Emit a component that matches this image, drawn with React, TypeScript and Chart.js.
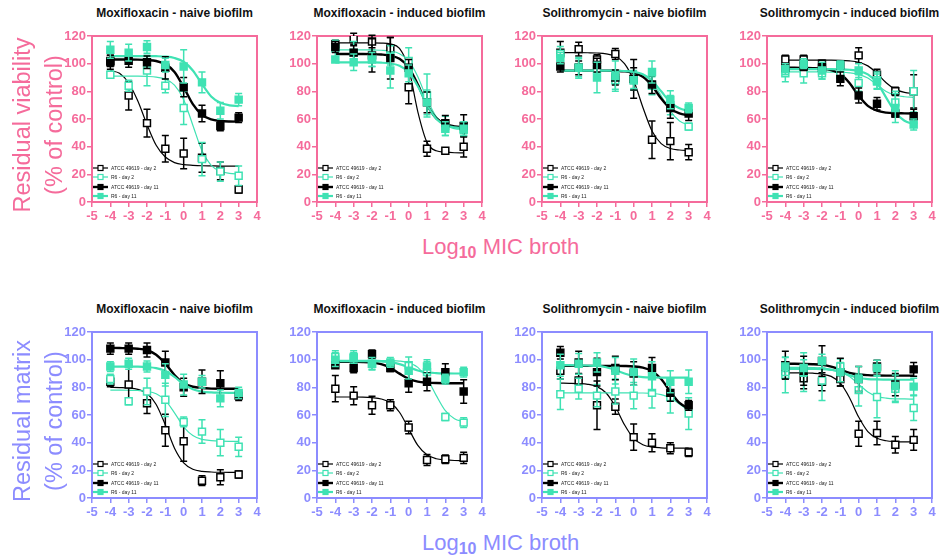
import React, { useEffect, useRef } from "react";
import { Chart, registerables } from "chart.js";
Chart.register(...registerables);

const FONT = "'Liberation Sans', Arial, sans-serif";
const PINK = "#f56b9b";
const BLUE = "#8c8cff";
const TEAL = "#3fe2b3";
const BLACK = "#000000";

const doseLog = [-4, -3, -2, -1, 0, 1, 2, 3];
const fitLog = [-4, -3.5, -3, -2.5, -2, -1.5, -1, -0.5, 0, 0.5, 1, 1.5, 2, 2.5, 3];
const xTickValues = [-5, -4, -3, -2, -1, 0, 1, 2, 3, 4];
const yTickValues = [0, 20, 40, 60, 80, 100, 120];
const seriesLabels = ["ATCC 49619 - day 2", "R6 - day 2", "ATCC 49619 - day 11", "R6 - day 11"];
const panelTitles = [
  "Moxifloxacin - naive biofilm",
  "Moxifloxacin - induced biofilm",
  "Solithromycin - naive biofilm",
  "Solithromycin - induced biofilm",
];
const rowYLabels = [
  ["Residual viability", "(% of control)"],
  ["Residual matrix", "(% of control)"],
];
const xAxisTitle = ["Log", "10", " MIC broth"];

// ---- Residual viability: Moxifloxacin naive ----
const p1Means = [
  [101, 77, 57, 38.5, 35, 32, 22.5, 9],
  [92, 84, 95, 84, 68, 31, 22, 19],
  [102, 102, 101, 97, 83, 64, 55, 61],
  [110, 108, 112, 99, 98, 86.5, 66, 74],
];
const p1Errs = [
  [5, 10.5, 10, 9.5, 11, 10.5, 6.5, 2.5],
  [2.5, 4, 11, 5, 12, 12, 7, 7],
  [4, 4.5, 4.5, 8, 7, 6, 3.5, 3.5],
  [6, 6, 4.5, 5, 12, 7.5, 6, 4.5],
];
const p1Fits = [
  [95, 93, 86, 73, 56, 41, 32.5, 28.5, 27, 26.5, 26.2, 26.1, 26, 26, 26],
  [91, 91, 91, 91, 90.8, 90.3, 88.8, 84.5, 74, 55.5, 37, 26.5, 22.2, 20.7, 20.2],
  [103, 103, 103, 102.9, 102.6, 101.9, 99.7, 94, 83, 70.8, 63, 59.7, 58.6, 58.2, 58.1],
  [105.5, 105.5, 105.5, 105.5, 105.5, 105.4, 105.1, 104.1, 101.4, 95.1, 85.2, 76.3, 71.7, 69.9, 69.3],
];

// ---- Residual viability: Moxifloxacin induced ----
const p2Means = [
  [114, 118, 116, 111, 83, 38.5, 37, 40],
  [111, 108, 104, 106, 102, 77, 55, 52],
  [112, 108, 106, 104, 97, 72, 57, 55],
  [103, 101, 103, 95, 93, 72, 53, 53],
];
const p2Errs = [
  [3, 4, 4.5, 8, 12, 5.5, 2, 7.5],
  [6, 8, 6, 7, 9.5, 15.5, 7, 4],
  [4, 5, 12, 15, 6, 7.5, 5.5, 8],
  [2, 6, 5, 12.5, 6, 9, 5, 5],
];
const p2Fits = [
  [115, 115, 115, 115, 115, 114.9, 114.3, 111, 96.7, 65.2, 43.1, 37, 36, 35.6, 35.5],
  [110, 110, 110, 110, 109.9, 109.7, 109.1, 107.2, 102, 90.6, 74.4, 61.7, 55.4, 53.1, 52.4],
  [107, 107, 107, 107, 106.9, 106.6, 105.8, 103.5, 97.3, 85, 70.4, 60.6, 56.3, 54.7, 54.2],
  [101, 101, 101, 101, 100.9, 100.7, 100.1, 98.5, 93.8, 83.7, 70.3, 60.2, 55.5, 53.9, 53.3],
];

// ---- Residual viability: Solithromycin naive ----
const p3Means = [
  [108, 110.5, 103, 107, 89, 45, 44, 36],
  [107, 97, 96, 88, 88, 84, 70, 54.5],
  [98, 97, 99, 90, 89, 85, 68, 64],
  [104, 97, 90, 91, 88, 94, 74, 68],
];
const p3Errs = [
  [8, 5, 3.5, 4, 14, 13.5, 13.5, 5.5],
  [5.5, 6.5, 5, 6.5, 7, 6.5, 7, 2.5],
  [4, 5, 5, 5.5, 8, 6.5, 7.5, 5],
  [4, 7.5, 11, 11, 6, 8, 6.5, 3.5],
];
const p3Fits = [
  [108, 108, 108, 107.9, 107.7, 107.1, 105.3, 100, 87.8, 68.5, 51.3, 42.2, 38.7, 37.6, 37.2],
  [95, 95, 95, 95, 95, 95, 94.9, 94.7, 94, 92, 86.8, 76.8, 65.7, 58.5, 55.6],
  [95, 95, 95, 95, 95, 95, 94.8, 94.5, 93.4, 90.5, 84, 74.8, 67.5, 64, 62.6],
  [95, 95, 95, 95, 95, 95, 94.9, 94.7, 94.1, 92.3, 87.8, 80, 72.2, 67.7, 65.9],
];

// ---- Residual viability: Solithromycin induced ----
const p4Means = [
  [103, 103, 100, 99, 106, 92, 80, 80],
  [93, 93, 93, 92, 86, 88, 72, 80],
  [97, 98, 97, 89, 77, 71, 64, 62],
  [96, 100, 95, 99, 95, 87, 68, 56],
];
const p4Errs = [
  [3, 3, 2.5, 3, 5.5, 4, 3, 12],
  [6, 7, 4, 5, 6, 6, 8, 15],
  [3, 3, 3, 5, 5.5, 4.5, 2.5, 5],
  [4, 3.5, 6, 3, 5, 5.5, 10.5, 4],
];
const p4Fits = [
  [102.5, 102.5, 102.5, 102.5, 102.5, 102.5, 102.4, 102, 101, 98.4, 93, 86.2, 81.4, 79.2, 78.4],
  [94, 94, 94, 94, 94, 93.9, 93.8, 93.4, 92.3, 89.6, 84.8, 79.9, 77.2, 76.1, 75.7],
  [97, 97, 96.9, 96.8, 96.5, 95.4, 92.5, 86, 76.8, 69.5, 66, 64.6, 64.2, 64.1, 64],
  [96, 96, 96, 96, 96, 96, 95.9, 95.6, 94.7, 92.3, 86.2, 75.5, 64.8, 58.7, 56.3],
];

// ---- Residual matrix: Moxifloxacin naive ----
const p5Means = [
  [84, 82, 68.5, 49, 41, 12.5, 15, 17],
  [86, 70, 77, 71, 55, 48, 40, 37],
  [108, 108, 107, 98, 80, 84, 83, 74],
  [95, 97, 95, 89, 82, 84, 72, 76],
];
const p5Errs = [
  [3.5, 14, 7.5, 11.5, 14.5, 3.5, 5.5, 2.5],
  [3.5, 2.5, 9.5, 12, 3.5, 8.5, 9.5, 7],
  [4, 4, 5, 8, 6.5, 8.5, 9, 3.5],
  [3.5, 4, 4, 8, 7.5, 4.5, 6, 4],
];
const p5Fits = [
  [80, 79.8, 79.5, 78.5, 75.5, 67.6, 52.8, 36, 25.4, 20.8, 19.3, 18.8, 18.6, 18.5, 18.5],
  [78, 78, 77.9, 77.7, 77.1, 75.3, 70.6, 61.6, 51.5, 45.1, 42.4, 41.5, 41.1, 41, 41],
  [108.5, 108.4, 108.3, 107.9, 106.8, 103.6, 97.1, 88.9, 83, 80.4, 79.5, 79.1, 79, 79, 79],
  [95, 95, 95, 94.9, 94.6, 93.9, 91.8, 87.6, 82.3, 78.6, 76.9, 76.3, 76.1, 76, 76],
];

// ---- Residual matrix: Moxifloxacin induced ----
const p6Means = [
  [79, 74, 67, 67, 51, 27.5, 28, 29],
  [102, 101, 97, 96, 96, 91, 58.5, 54.5],
  [96, 94, 104, 94, 83, 84, 91, 77],
  [100, 102, 97, 98, 92, 95, 86, 91],
];
const p6Errs = [
  [9.5, 6.5, 6.5, 4, 4.5, 4, 3, 4],
  [4.5, 4, 4, 3, 6, 7.5, 2.5, 3.5],
  [2, 3.5, 3, 2.5, 6.5, 6.5, 6, 8.5],
  [5, 4.5, 4.5, 3.5, 6, 5, 3.5, 3.5],
];
const p6Fits = [
  [73, 73, 73, 72.9, 72.5, 71.6, 68.8, 62, 50, 38, 31.2, 28.4, 27.5, 27.1, 27],
  [99.5, 99.5, 99.5, 99.5, 99.5, 99.4, 99.3, 99, 97.8, 94.4, 86.5, 74.2, 63.1, 57.3, 55.1],
  [98.5, 98.5, 98.4, 98.3, 97.9, 96.8, 94.1, 89.9, 86.1, 84.1, 83.4, 83.1, 83, 83, 83],
  [99, 99, 99, 99, 98.9, 98.7, 98.2, 96.8, 94.5, 92.2, 90.8, 90.3, 90.1, 90, 90],
];

// ---- Residual matrix: Solithromycin naive ----
const p7Means = [
  [92, 85, 67, 66, 44, 40, 36, 33],
  [75, 79, 74, 77, 74, 76, 73, 61],
  [105, 98, 91, 94, 90, 94, 76, 67],
  [96, 97, 98, 92, 91, 88, 84, 84],
];
const p7Errs = [
  [6, 4.5, 17.5, 5.5, 9.5, 6.5, 4, 3],
  [11, 7.5, 8, 9, 9.5, 11, 11.5, 11.5],
  [4.5, 8, 10, 8.5, 8.5, 7.5, 6, 3.5],
  [8, 7.5, 7, 9.5, 9.5, 10.5, 8, 8.5],
];
const p7Fits = [
  [83, 82.9, 82.7, 82.2, 80.5, 75.9, 66.1, 52.9, 43.1, 38.5, 36.8, 36.3, 36.1, 36, 36],
  [76, 76, 76, 76, 76, 76, 76, 76, 75.9, 75.9, 75.6, 74.7, 72.4, 68, 63.1],
  [95.5, 95.5, 95.5, 95.5, 95.5, 95.5, 95.5, 95.4, 95.1, 94.2, 91.7, 86, 76.8, 68.7, 64.5],
  [96, 96, 95.9, 95.8, 95.5, 94.5, 92.5, 90, 88.2, 87.4, 87.1, 87, 87, 87, 87],
];

// ---- Residual matrix: Solithromycin induced ----
const p8Means = [
  [92, 86.5, 84, 86, 46.5, 47, 38.5, 42],
  [89, 91, 85, 95, 78, 73, 79, 65],
  [96, 92, 99, 91, 86, 95, 82, 93],
  [95, 94, 99, 91, 86, 94, 81, 80.5],
];
const p8Errs = [
  [6, 7.5, 6.5, 5, 9, 8.5, 6, 7.5],
  [13, 14, 14.5, 5.5, 11.5, 15, 10, 9],
  [10, 10.5, 11, 10, 9, 4.5, 8, 5],
  [6.5, 6, 5, 7, 9, 5.5, 11, 6],
];
const p8Fits = [
  [90.5, 90.5, 90.4, 90.2, 89.6, 87.9, 83, 72.5, 58.5, 48, 43.2, 41.4, 40.8, 40.6, 40.5],
  [93, 93, 93, 92.9, 92.8, 92.3, 91.1, 87.8, 82.3, 76.7, 73.5, 72.2, 71.7, 71.6, 71.5],
  [97, 97, 96.9, 96.7, 96.2, 95, 92.8, 90.5, 89.3, 88.8, 88.6, 88.5, 88.5, 88.5, 88.5],
  [94, 94, 94, 93.9, 93.6, 92.8, 91.2, 88.8, 86.9, 86, 85.7, 85.6, 85.5, 85.5, 85.5],
];

// styles
const seriesColors = [BLACK, TEAL, BLACK, TEAL];
const seriesFilled = [false, false, true, true];
const seriesLineWidth = [1.2, 1.2, 2.4, 2.2];

const PLOT_W = 165;
const PLOT_H = 166;
const AXIS_W = 45;
const AXIS_H = 25;
const PAD_T = 10;
const PAD_R = 12;
const colLefts = [92, 317, 542, 767];
const rowTops = [36, 332];

type PanelProps = {
  left: number;
  top: number;
  means: number[][];
  errs: number[][];
  fits: number[][];
  axisColor: string;
};

function Panel({ left, top, means, errs, fits, axisColor }: PanelProps) {
  const ref = useRef<HTMLCanvasElement | null>(null);
  useEffect(() => {
    if (!ref.current) return;
    const datasets: any[] = [];
    for (let s = 0; s < 4; s++) {
      datasets.push({
        label: seriesLabels[s] + " fit",
        data: fitLog.map((x, i) => ({ x, y: fits[s][i] })),
        borderColor: seriesColors[s],
        borderWidth: seriesLineWidth[s],
        pointRadius: 0,
        fill: false,
        cubicInterpolationMode: "monotone",
        order: 20 - s,
      });
      datasets.push({
        label: seriesLabels[s],
        data: doseLog.map((x, i) => ({ x, y: means[s][i] })),
        showLine: false,
        pointStyle: "rect",
        pointRadius: 4.9,
        borderWidth: 1.5,
        borderColor: seriesColors[s],
        backgroundColor: seriesFilled[s] ? seriesColors[s] : "#ffffff",
        errs: errs[s],
        errColor: seriesColors[s],
        order: 10 - s,
      });
    }

    const framePlugin = {
      id: "frame",
      beforeDatasetsDraw(chart: any) {
        const { ctx, chartArea: a } = chart;
        ctx.save();
        ctx.strokeStyle = axisColor;
        ctx.lineWidth = 2;
        ctx.strokeRect(a.left, a.top, a.right - a.left, a.bottom - a.top);
        ctx.restore();
      },
      beforeDatasetDraw(chart: any, args: any) {
        const ds = chart.data.datasets[args.index];
        if (!ds.errs) return;
        const { ctx } = chart;
        const xs = chart.scales.x;
        const ys = chart.scales.y;
        ctx.save();
        ctx.strokeStyle = ds.errColor;
        ctx.lineWidth = 1.5;
        ds.data.forEach((p: any, i: number) => {
          const e = ds.errs[i];
          const px = xs.getPixelForValue(p.x);
          const y1 = ys.getPixelForValue(p.y - e);
          const y2 = ys.getPixelForValue(p.y + e);
          ctx.beginPath();
          ctx.moveTo(px, y1);
          ctx.lineTo(px, y2);
          ctx.moveTo(px - 3.5, y1);
          ctx.lineTo(px + 3.5, y1);
          ctx.moveTo(px - 3.5, y2);
          ctx.lineTo(px + 3.5, y2);
          ctx.stroke();
        });
        ctx.restore();
      },
      afterDatasetsDraw(chart: any) {
        const { ctx, chartArea: a } = chart;
        const offs = [-34, -25, -15, -6];
        ctx.save();
        for (let s = 0; s < 4; s++) {
          const y = a.bottom + offs[s];
          ctx.strokeStyle = seriesColors[s];
          ctx.lineWidth = seriesLineWidth[s];
          ctx.beginPath();
          ctx.moveTo(a.left + 1, y);
          ctx.lineTo(a.left + 16, y);
          ctx.stroke();
          ctx.fillStyle = seriesFilled[s] ? seriesColors[s] : "#ffffff";
          ctx.fillRect(a.left + 6, y - 2.5, 5, 5);
          ctx.lineWidth = 1.2;
          ctx.strokeRect(a.left + 6, y - 2.5, 5, 5);
          ctx.fillStyle = "#222222";
          ctx.font = "5px " + FONT;
          ctx.textBaseline = "middle";
          ctx.textAlign = "left";
          ctx.fillText(seriesLabels[s], a.left + 19, y + 0.5);
        }
        ctx.restore();
      },
    };

    const tickFont = { family: FONT, size: 13, weight: "bold" as const };
    const chart = new Chart(ref.current, {
      type: "line",
      data: { datasets },
      options: {
        responsive: false,
        animation: false,
        devicePixelRatio: 1,
        layout: { padding: { top: PAD_T, right: PAD_R, left: 0, bottom: 0 } },
        plugins: { legend: { display: false }, tooltip: { enabled: false }, title: { display: false } },
        scales: {
          x: {
            type: "linear",
            min: -5,
            max: 4,
            afterBuildTicks: (sc: any) => {
              sc.ticks = xTickValues.map((v) => ({ value: v }));
            },
            ticks: { color: axisColor, font: tickFont, padding: 2, autoSkip: false, maxRotation: 0 },
            grid: { display: true, drawOnChartArea: false, drawTicks: true, tickLength: 5, color: axisColor, lineWidth: 1.5 },
            border: { display: false },
            afterFit: (sc: any) => {
              sc.height = AXIS_H;
            },
          },
          y: {
            type: "linear",
            min: 0,
            max: 120,
            afterBuildTicks: (sc: any) => {
              sc.ticks = yTickValues.map((v) => ({ value: v }));
            },
            ticks: { color: axisColor, font: tickFont, padding: 1, autoSkip: false },
            grid: { display: true, drawOnChartArea: false, drawTicks: true, tickLength: 5, color: axisColor, lineWidth: 1.5 },
            border: { display: false },
            afterFit: (sc: any) => {
              sc.width = AXIS_W;
            },
          },
        },
      } as any,
      plugins: [framePlugin],
    });
    return () => chart.destroy();
  }, []);
  return (
    <canvas
      ref={ref}
      width={AXIS_W + PLOT_W + PAD_R}
      height={PAD_T + PLOT_H + AXIS_H}
      style={{ position: "absolute", left: left - AXIS_W, top: top - PAD_T, width: AXIS_W + PLOT_W + PAD_R, height: PAD_T + PLOT_H + AXIS_H }}
    />
  );
}

const panels = [
  { row: 0, col: 0, means: p1Means, errs: p1Errs, fits: p1Fits },
  { row: 0, col: 1, means: p2Means, errs: p2Errs, fits: p2Fits },
  { row: 0, col: 2, means: p3Means, errs: p3Errs, fits: p3Fits },
  { row: 0, col: 3, means: p4Means, errs: p4Errs, fits: p4Fits },
  { row: 1, col: 0, means: p5Means, errs: p5Errs, fits: p5Fits },
  { row: 1, col: 1, means: p6Means, errs: p6Errs, fits: p6Fits },
  { row: 1, col: 2, means: p7Means, errs: p7Errs, fits: p7Fits },
  { row: 1, col: 3, means: p8Means, errs: p8Errs, fits: p8Fits },
];

const rowColors = [PINK, BLUE];

export default function App() {
  return (
    <div style={{ position: "fixed", left: 0, top: 0, width: 950, height: 560, background: "#ffffff", overflow: "hidden", fontFamily: FONT }}>
      {panels.map((p, i) => (
        <React.Fragment key={i}>
          <div
            style={{
              position: "absolute",
              left: colLefts[p.col] + PLOT_W / 2,
              top: rowTops[p.row] - 30,
              transform: "translateX(-50%)",
              whiteSpace: "nowrap",
              fontSize: 12,
              fontWeight: "bold",
              lineHeight: "14px",
              color: "#111111",
            }}
          >
            {panelTitles[p.col]}
          </div>
          <Panel
            left={colLefts[p.col]}
            top={rowTops[p.row]}
            means={p.means}
            errs={p.errs}
            fits={p.fits}
            axisColor={rowColors[p.row]}
          />
        </React.Fragment>
      ))}
      {[0, 1].map((r) => (
        <React.Fragment key={"lab" + r}>
          <div
            style={{
              position: "absolute",
              left: 41 - 110,
              top: rowTops[r] + 89 - 35,
              width: 220,
              height: 70,
              transform: "rotate(-90deg)",
              textAlign: "center",
              fontSize: 23.5,
              lineHeight: "32px",
              color: rowColors[r],
              whiteSpace: "nowrap",
            }}
          >
            <div>{rowYLabels[r][0]}</div>
            <div>{rowYLabels[r][1]}</div>
          </div>
          <div
            style={{
              position: "absolute",
              left: 422,
              top: rowTops[r] + 200,
              fontSize: 22,
              lineHeight: "22px",
              color: rowColors[r],
              whiteSpace: "nowrap",
            }}
          >
            {xAxisTitle[0]}
            <span style={{ fontSize: 16, fontWeight: "bold", verticalAlign: "-4px", lineHeight: "0" }}>{xAxisTitle[1]}</span>
            {xAxisTitle[2]}
          </div>
        </React.Fragment>
      ))}
    </div>
  );
}
